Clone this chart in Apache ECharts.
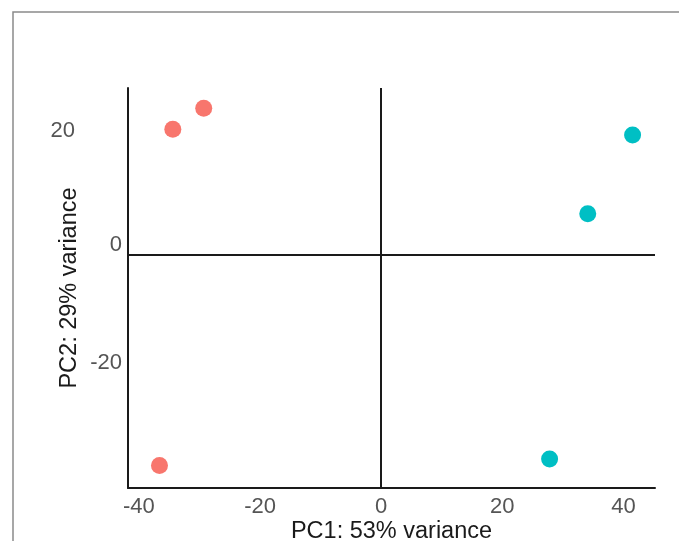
<!DOCTYPE html>
<html>
<head>
<meta charset="utf-8">
<title>PCA</title>
<script src="https://cdn.jsdelivr.net/npm/echarts@6/dist/echarts.min.js"></script>
<style>
  html, body { margin: 0; padding: 0; background: #ffffff; }
  #chart { width: 679px; height: 541px; }
</style>
</head>
<body>
<div id="chart"></div>
<script>
// PCA scores of the samples, one array per group
const groupAPC1 = [-29.3, -34.4, -36.6];
const groupAPC2 = [25.2, 21.6, -36.4];
const groupBPC1 = [41.5, 34.1, 27.8];
const groupBPC2 = [20.6, 7.0, -35.3];

// axis titles and tick labels
const xTitle = 'PC1: 53% variance';
const yTitle = 'PC2: 29% variance';
const xTicks = [-40, -20, 0, 20, 40];
const yTicks = [-20, 0, 20];

const colorA = '#F8766D';
const colorB = '#00BFC4';
const font = '"Liberation Sans", Arial, Helvetica, sans-serif';
const axisColor = '#1a1a1a';
const tickColor = '#555555';

function pairs(xs, ys) {
  return xs.map((x, i) => [x, ys[i]]);
}

const chart = echarts.init(document.getElementById('chart'), null, { renderer: 'canvas' });

chart.setOption({
  backgroundColor: '#ffffff',
  animation: false,
  graphic: [{
    type: 'rect',
    silent: true,
    shape: { x: 13, y: 12, width: 800, height: 800 },
    style: { fill: 'none', stroke: '#8a8a8a', lineWidth: 1.5 }
  }],
  grid: { left: 128, right: 24, top: 88, bottom: 53, outerBoundsMode: 'none', containLabel: false },
  xAxis: {
    type: 'value',
    min: -41.8,
    max: 45.2,
    name: xTitle,
    nameLocation: 'middle',
    nameGap: 32,
    nameMoveOverlap: false,
    nameTextStyle: { fontFamily: font, fontSize: 23.5, color: '#1a1a1a' },
    axisLine: { show: true, onZero: false, lineStyle: { color: axisColor, width: 2 } },
    axisTick: { show: false },
    splitLine: { show: false },
    axisLabel: {
      customValues: xTicks,
      margin: 8,
      fontFamily: font,
      fontSize: 22,
      color: tickColor
    }
  },
  yAxis: {
    type: 'value',
    min: -40.3,
    max: 28.7,
    name: yTitle,
    nameLocation: 'middle',
    nameRotate: 90,
    nameGap: 46,
    nameMoveOverlap: false,
    nameTextStyle: { fontFamily: font, fontSize: 23.5, color: '#1a1a1a' },
    axisLine: { show: true, onZero: false, lineStyle: { color: axisColor, width: 2 } },
    axisTick: { show: false },
    splitLine: { show: false },
    axisLabel: {
      customValues: yTicks,
      margin: 6,
      fontFamily: font,
      fontSize: 22,
      color: tickColor,
      formatter: function (v) {
        if (v === 20) return '{top|' + v + '}';
        if (v === 0) return '{mid|' + v + '}';
        return '{low|' + v + '}';
      },
      rich: {
        top: { fontFamily: font, fontSize: 22, color: tickColor, padding: [0, 47, 15, 0] },
        mid: { fontFamily: font, fontSize: 22, color: tickColor, padding: [0, 0, 19, 0] },
        low: { fontFamily: font, fontSize: 22, color: tickColor, padding: [0, 0, 15, 0] }
      }
    }
  },
  series: [
    {
      name: 'A',
      type: 'scatter',
      data: pairs(groupAPC1, groupAPC2),
      symbolSize: 17,
      itemStyle: { color: colorA, opacity: 1 },
      z: 3,
      markLine: {
        silent: true,
        symbol: ['none', 'none'],
        label: { show: false },
        lineStyle: { color: axisColor, width: 2, type: 'solid' },
        data: [{ xAxis: 0 }, { yAxis: 0 }],
        z: 1
      }
    },
    {
      name: 'B',
      type: 'scatter',
      data: pairs(groupBPC1, groupBPC2),
      symbolSize: 17,
      itemStyle: { color: colorB, opacity: 1 },
      z: 3
    }
  ]
});
</script>
</body>
</html>
